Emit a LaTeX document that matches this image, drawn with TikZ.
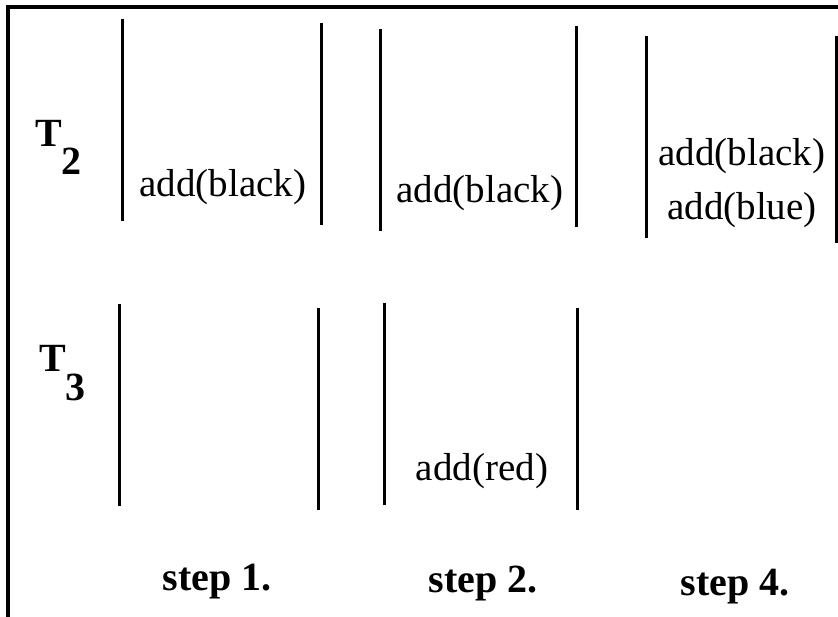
\documentclass[tikz,border=0pt]{standalone}
\usepackage{fontspec}
\setmainfont{Liberation Serif}
\begin{document}
\begin{tikzpicture}[x=1pt,y=-1pt,
  bar/.style={line width=3pt},
  frame/.style={line width=3.5pt},
  lbl/.style={inner sep=0pt,anchor=base,font=\fontsize{39}{39}\selectfont},
  steplbl/.style={inner sep=0pt,anchor=base,font=\fontsize{40}{40}\selectfont\bfseries},
  tlbl/.style={inner sep=0pt,anchor=base west,font=\fontsize{40}{40}\selectfont\bfseries}]
\useasboundingbox (0,0) rectangle (838,617);
% frame
\draw[frame] (8,618) -- (8,7) -- (839,7);
% T2 row bars
\draw[bar] (122.5,19) -- (122.5,221);
\draw[bar] (321.5,23) -- (321.5,225);
\draw[bar] (380.5,29) -- (380.5,231);
\draw[bar] (576,26) -- (576,227);
\draw[bar] (646,36) -- (646,238);
\draw[bar] (836.5,36) -- (836.5,243);
% T3 row bars
\draw[bar] (119.5,304) -- (119.5,506);
\draw[bar] (318.5,308) -- (318.5,510);
\draw[bar] (384,303) -- (384,505);
\draw[bar] (577,308) -- (577,510);
% row labels
\node[tlbl] (t2) at (35,147) {T};
\node[tlbl] (t2s) at (61,175) {2};
\node[tlbl] (t3) at (39,372) {T};
\node[tlbl] (t3s) at (65,400) {3};
% operations
\node[lbl] (a1) at (223,197) {add(black)};
\node[lbl] (a2) at (480,203) {add(black)};
\node[lbl] (a3) at (742,166) {add(black)};
\node[lbl] (a4) at (742,220) {add(blue)};
\node[lbl] (a5) at (482,480) {add(red)};
% steps
\node[steplbl] (s1) at (217,590) {step 1.};
\node[steplbl] (s2) at (483,592) {step 2.};
\node[steplbl] (s4) at (735,595) {step 4.};
\end{tikzpicture}
\end{document}
